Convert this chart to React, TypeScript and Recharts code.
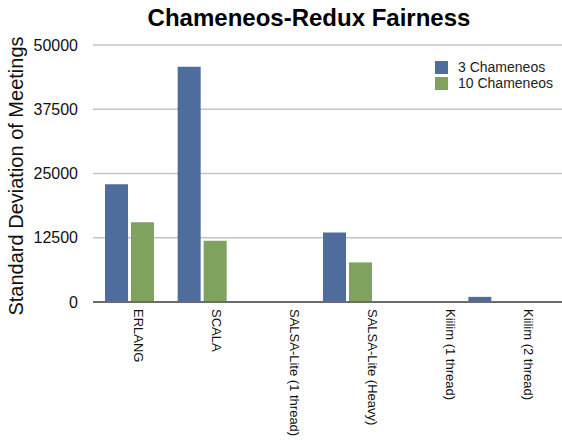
import React from "react";
import { BarChart, Bar, XAxis, YAxis, CartesianGrid, ReferenceLine } from "recharts";

// Chameneos-Redux fairness: standard deviation of meetings per implementation
const categories = [
  "ERLANG",
  "SCALA",
  "SALSA-Lite (1 thread)",
  "SALSA-Lite (Heavy)",
  "Kiilim (1 thread)",
  "Kiilim (2 thread)",
];
const threeChameneos = [22900, 45750, 0, 13500, 0, 1000];
const tenChameneos = [15500, 11900, 0, 7700, 0, 0];
const yTicks = [0, 12500, 25000, 37500, 50000];
// grid lines above the baseline; the baseline itself is drawn darker
const gridValues = yTicks.filter((v) => v > 0);

const seriesNames = ["3 Chameneos", "10 Chameneos"];
const BLUE = "#4e6c9c";
const GREEN = "#80a25f";
const FONT = "'Liberation Sans', Arial, Helvetica, sans-serif";

const data = categories.map((name, i) => ({
  name,
  three: threeChameneos[i],
  ten: tenChameneos[i],
}));

const CategoryTick = (props: any) => {
  const { x, y, payload } = props;
  return (
    <text
      x={x}
      y={y}
      dy="0.35em"
      transform={`rotate(90, ${x}, ${y})`}
      textAnchor="start"
      fontFamily={FONT}
      fontSize={13}
      fill="#111"
    >
      {payload.value}
    </text>
  );
};

const LegendBox = () => (
  <div
    style={{
      position: "absolute",
      left: 435,
      top: 59,
      fontFamily: FONT,
      fontSize: 14,
      color: "#222",
      lineHeight: "16px",
    }}
  >
    {seriesNames.map((n, i) => (
      <div key={n} style={{ display: "flex", alignItems: "center", height: 16 }}>
        <span
          style={{
            display: "inline-block",
            width: 13,
            height: 13,
            background: i === 0 ? BLUE : GREEN,
            marginRight: 10,
          }}
        />
        <span>{n}</span>
      </div>
    ))}
  </div>
);

export default function App() {
  return (
    <div
      style={{
        position: "absolute",
        left: 0,
        top: 0,
        width: 562,
        height: 440,
        overflow: "hidden",
        background: "#fff",
      }}
    >
      <BarChart
        width={600}
        height={440}
        data={data}
        margin={{ top: 45, right: 0, bottom: 0, left: 0 }}
        barSize={23}
        barGap={3}
      >
        <CartesianGrid
          vertical={false}
          horizontalValues={gridValues}
          stroke="#c4c4c4"
          strokeWidth={1.5}
        />
        <XAxis
          xAxisId="bars"
          dataKey="name"
          height={1}
          axisLine={{ stroke: "#6b6b6b", strokeWidth: 2 }}
          tick={false}
          tickLine={false}
          padding={{ left: 0, right: 71 }}
        />
        <XAxis
          xAxisId="labels"
          dataKey="name"
          height={137}
          interval={0}
          axisLine={false}
          tickLine={false}
          tickSize={0}
          tickMargin={6}
          tick={<CategoryTick />}
          padding={{ left: 7, right: 32 }}
        />
        <YAxis
          width={93}
          domain={[0, 50000]}
          ticks={yTicks}
          interval={0}
          axisLine={false}
          tickLine={false}
          tickSize={0}
          tickMargin={15}
          tick={{ fontSize: 16, fill: "#111", fontFamily: FONT }}
        />
        <Bar
          xAxisId="bars"
          dataKey="three"
          name={seriesNames[0]}
          fill={BLUE}
          isAnimationActive={false}
        />
        <Bar
          xAxisId="bars"
          dataKey="ten"
          name={seriesNames[1]}
          fill={GREEN}
          isAnimationActive={false}
        />
        <ReferenceLine xAxisId="labels" y={0} stroke="#6b6b6b" strokeWidth={2} />
        <text
          x={309}
          y={26}
          textAnchor="middle"
          fontFamily={FONT}
          fontSize={24}
          fontWeight="bold"
          fill="#000"
        >
          Chameneos-Redux Fairness
        </text>
        <text
          x={23}
          y={176}
          transform="rotate(-90, 23, 176)"
          textAnchor="middle"
          fontFamily={FONT}
          fontSize={20}
          fill="#111"
        >
          Standard Deviation of Meetings
        </text>
      </BarChart>
      <LegendBox />
    </div>
  );
}
